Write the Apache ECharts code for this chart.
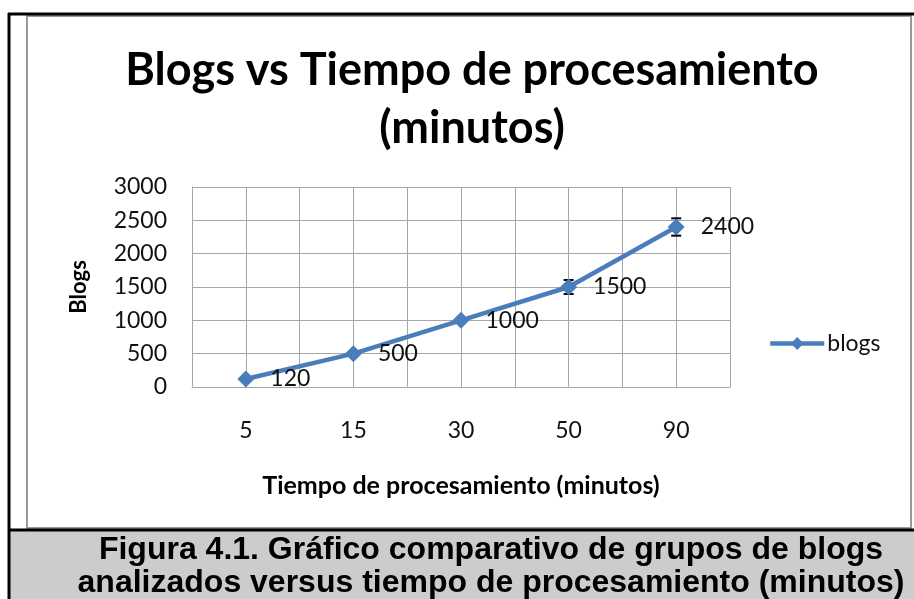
<!DOCTYPE html>
<html><head><meta charset="utf-8">
<script src="https://cdn.jsdelivr.net/npm/echarts@6/dist/echarts.min.js"></script>
<style>html,body{margin:0;padding:0;background:#fff;}#c{width:914px;height:599px;}</style>
</head><body><div id="c"></div>
<script>
var categories = ['5', '15', '30', '50', '90'];
var blogs = [120, 500, 1000, 1500, 2400];
var errorAmount = [0, 0, 0, 105, 130];
var yTicks = {min: 0, max: 3000, interval: 500};
var titleText = 'Blogs vs Tiempo de procesamiento\n(minutos)';
var xName = 'Tiempo de procesamiento (minutos)';
var yName = 'Blogs';
var seriesName = 'blogs';
var caption1 = 'Figura 4.1. Gráfico comparativo de grupos de blogs';
var caption2 = 'analizados versus tiempo de procesamiento (minutos)';

var errData = blogs.map(function (v, i) { return [i, v - errorAmount[i], v + errorAmount[i]]; });

var chart = echarts.init(document.getElementById('c'), null, {renderer: 'canvas'});
var blue = '#4a7ebb';
var gridColor = '#a6a6a6';
var font = 'Lato';
chart.setOption({
  backgroundColor: '#ffffff',
  animation: false,
  title: {
    text: titleText, left: 467, top: 36, textAlign: 'center',
    textStyle: {fontFamily: font, fontWeight: 'bold', fontSize: 45, lineHeight: 58, color: '#000'}
  },
  legend: {
    left: 763, top: 327, itemWidth: 54, itemHeight: 16, itemGap: 6,
    lineStyle: {width: 4.5, color: blue},
    textStyle: {fontFamily: font, fontSize: 23, color: '#111', padding: [0, 0, 0, -2]},
    data: [seriesName]
  },
  grid: {left: 192, right: 184, top: 187, bottom: 212, containLabel: false},
  xAxis: [{
    type: 'category', data: categories, boundaryGap: true,
    axisLine: {show: true, lineStyle: {color: gridColor, width: 1}},
    axisTick: {show: false}, splitLine: {show: false},
    axisLabel: {fontFamily: font, fontSize: 23, color: '#111', margin: 32},
    name: xName, nameLocation: 'middle', nameGap: 86,
    nameTextStyle: {fontFamily: font, fontWeight: 'bold', fontSize: 25, color: '#000'}
  }, {
    type: 'value', min: 0, max: 10, interval: 1, show: true, position: 'bottom',
    axisLine: {show: false}, axisTick: {show: false}, axisLabel: {show: false},
    splitLine: {show: true, lineStyle: {color: gridColor, width: 1}}
  }],
  yAxis: {
    type: 'value', min: yTicks.min, max: yTicks.max, interval: yTicks.interval,
    axisLine: {show: true, lineStyle: {color: gridColor, width: 1}},
    axisTick: {show: false},
    splitLine: {show: true, lineStyle: {color: gridColor, width: 1}},
    axisLabel: {fontFamily: font, fontSize: 23, color: '#111', margin: 25,
      formatter: function (v) { return String(v); }},
    name: yName, nameLocation: 'middle', nameGap: 102, nameRotate: 90,
    nameTextStyle: {fontFamily: font, fontWeight: 'bold', fontSize: 22, color: '#000'}
  },
  series: [{
    type: 'custom', name: 'err', xAxisIndex: 0, z: 1, silent: true,
    data: errData,
    renderItem: function (params, api) {
      var x = api.coord([api.value(0), 0])[0];
      var lo = api.coord([api.value(0), api.value(1)])[1];
      var hi = api.coord([api.value(0), api.value(2)])[1];
      if (Math.abs(hi - lo) < 1) return null;
      var hw = 5;
      var st = {stroke: '#000', lineWidth: 2};
      return {type: 'group', children: [
        {type: 'line', shape: {x1: x, y1: lo, x2: x, y2: hi}, style: st},
        {type: 'line', shape: {x1: x - hw, y1: lo, x2: x + hw, y2: lo}, style: st},
        {type: 'line', shape: {x1: x - hw, y1: hi, x2: x + hw, y2: hi}, style: st}
      ]};
    }
  }, {
    type: 'line', name: seriesName, data: blogs, xAxisIndex: 0, z: 3,
    symbol: 'diamond', symbolSize: 17,
    lineStyle: {color: blue, width: 4.5},
    itemStyle: {color: blue},
    label: {show: true, position: 'right', distance: 16, fontFamily: font, fontSize: 23, color: '#111'}
  }],
  graphic: [
    {type: 'rect', shape: {x: 10, y: 531, width: 904, height: 68}, style: {fill: '#cccccc'}, z: 0},
    {type: 'rect', shape: {x: 27, y: 16, width: 884, height: 512}, style: {fill: 'none', stroke: '#999999', lineWidth: 2}, z: 0},
    {type: 'line', shape: {x1: 8, y1: 14, x2: 914, y2: 14}, style: {stroke: '#000', lineWidth: 3}, z: 10},
    {type: 'line', shape: {x1: 9, y1: 13, x2: 9, y2: 599}, style: {stroke: '#000', lineWidth: 3}, z: 10},
    {type: 'line', shape: {x1: 8, y1: 530, x2: 914, y2: 530}, style: {stroke: '#000', lineWidth: 3}, z: 10},
    {type: 'text', x: 491, y: 550, z: 10, style: {text: caption1, x: 0, y: 0, align: 'center', verticalAlign: 'middle',
      font: 'bold 32px "Liberation Sans", Arial, sans-serif', fill: '#000'}},
    {type: 'text', x: 491, y: 583, z: 10, style: {text: caption2, x: 0, y: 0, align: 'center', verticalAlign: 'middle',
      font: 'bold 32px "Liberation Sans", Arial, sans-serif', fill: '#000'}}
  ]
});
</script></body></html>
